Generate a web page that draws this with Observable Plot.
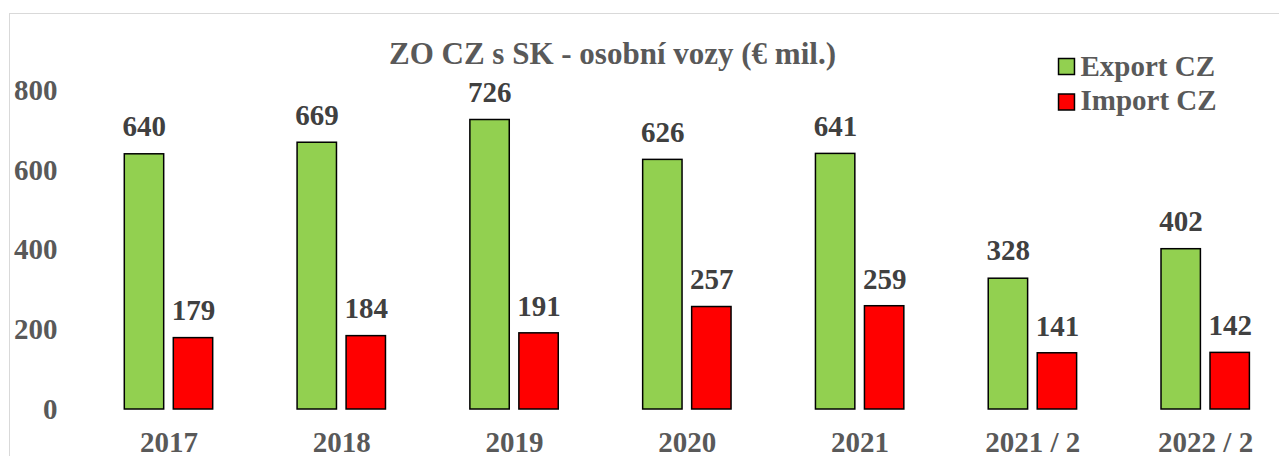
<!DOCTYPE html>
<html>
<head>
<meta charset="utf-8">
<script src="https://cdn.jsdelivr.net/npm/d3@7"></script>
<script src="https://cdn.jsdelivr.net/npm/@observablehq/plot@0.6"></script>
<style>
  html, body { margin: 0; padding: 0; background: #fff; overflow: hidden; }
  #wrap { position: relative; width: 1279px; height: 456px; }
  #border { position: absolute; left: 9px; top: 13px; width: 1400px; height: 600px; border: 1.5px solid #d9d9d9; box-sizing: border-box; }
  #chart { position: absolute; left: 0; top: 0; }
</style>
</head>
<body>
<div id="wrap"><div id="border"></div><div id="chart"></div></div>
<script>
const title = "ZO CZ s SK - osobní vozy (€ mil.)";
const categories = ["2017", "2018", "2019", "2020", "2021", "2021 / 2", "2022 / 2"];
const exportCZ = [640, 669, 726, 626, 641, 328, 402];
const importCZ = [179, 184, 191, 257, 259, 141, 142];
const seriesNames = ["Export CZ", "Import CZ"];
const seriesColors = ["#92d050", "#ff0000"];
const yTicks = [0, 200, 400, 600, 800];

const rows = categories.map((c, i) => ({cat: c, exp: exportCZ[i], imp: importCZ[i]}));
const font = "'Liberation Serif', 'Times New Roman', serif";

const chart = Plot.plot({
  width: 1279,
  height: 456,
  marginTop: 90,
  marginBottom: 47,
  marginLeft: 82,
  marginRight: 0,
  style: {fontFamily: font, fontWeight: "bold", overflow: "visible", background: "transparent"},
  x: {type: "band", domain: categories, range: [82, 1291.5], padding: 0, round: false},
  y: {domain: [0, 800], range: [409, 90]},
  marks: [
    Plot.ruleY(yTicks, {stroke: "#d9d9d9", strokeWidth: 1.5, x1: 82, x2: 1279}),
    Plot.axisY({ticks: yTicks, tickSize: 0, tickPadding: 25, fontSize: 29, fill: "#595959", label: null}),
    Plot.axisX({tickSize: 0, tickPadding: 22, fontSize: 29, fill: "#595959", label: null}),
    Plot.barY(rows, {x: "cat", y: "exp", fill: seriesColors[0], stroke: "#000", strokeWidth: 1.5, insetLeft: 42.3, insetRight: 91.1}),
    Plot.barY(rows, {x: "cat", y: "imp", fill: seriesColors[1], stroke: "#000", strokeWidth: 1.5, insetLeft: 91.3, insetRight: 42.1}),
    Plot.text(rows, {x: "cat", y: "exp", text: d => String(d.exp), dx: -24.6, dy: -27.5, lineAnchor: "middle", fontSize: 29, fill: "#404040"}),
    Plot.text(rows, {x: "cat", y: "imp", text: d => String(d.imp), dx: 24.6, dy: -27, lineAnchor: "middle", fontSize: 29, fill: "#404040"}),
    Plot.text([title], {text: d => d, frameAnchor: "top-left", dx: 612 - 82, dy: 54 - 90, textAnchor: "middle", lineAnchor: "middle", fontSize: 31, fill: "#595959"}),
    Plot.dot([seriesNames[0]], {frameAnchor: "top-left", dx: 1066 - 82, dy: 66 - 90, symbol: "square", r: 9, fill: seriesColors[0], stroke: "#000", strokeWidth: 1.5}),
    Plot.dot([seriesNames[1]], {frameAnchor: "top-left", dx: 1066 - 82, dy: 101.5 - 90, symbol: "square", r: 9, fill: seriesColors[1], stroke: "#000", strokeWidth: 1.5}),
    Plot.text([seriesNames[0]], {text: d => d, frameAnchor: "top-left", dx: 1080 - 82, dy: 66 - 90, textAnchor: "start", lineAnchor: "middle", fontSize: 29, fill: "#595959"}),
    Plot.text([seriesNames[1]], {text: d => d, frameAnchor: "top-left", dx: 1080 - 82, dy: 100.5 - 90, textAnchor: "start", lineAnchor: "middle", fontSize: 29, fill: "#595959"})
  ]
});
document.getElementById("chart").appendChild(chart);
</script>
</body>
</html>
